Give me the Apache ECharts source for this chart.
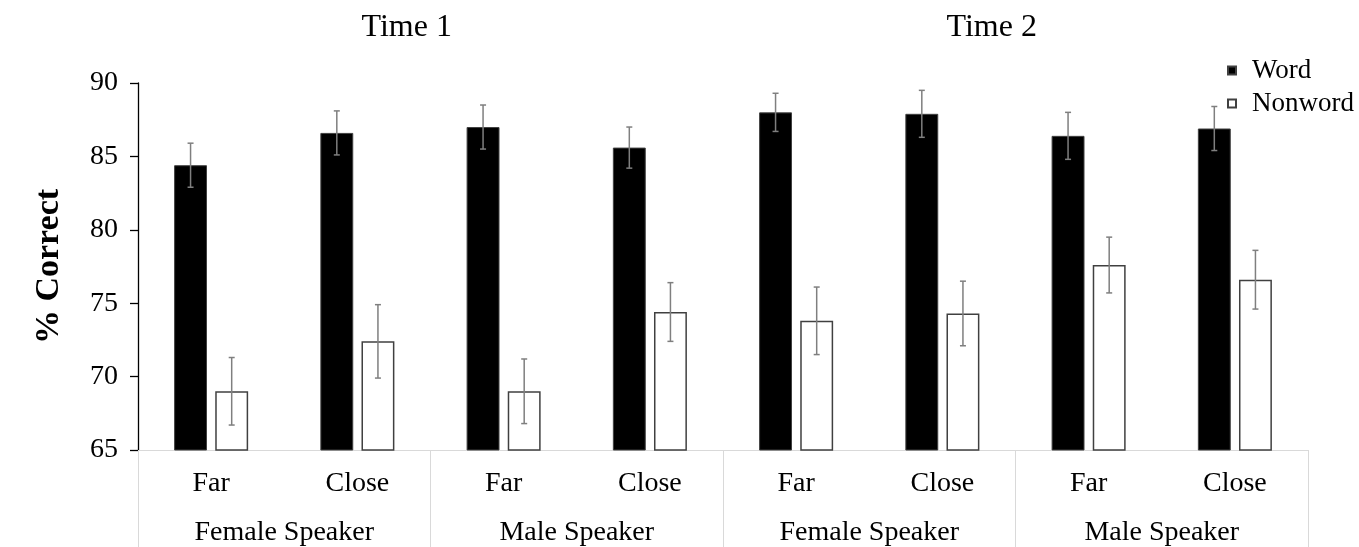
<!DOCTYPE html>
<html>
<head>
<meta charset="utf-8">
<script src="https://cdn.jsdelivr.net/npm/echarts@6/dist/echarts.min.js"></script>
<style>html,body{margin:0;padding:0;background:#fff;}#chart{width:1359px;height:547px;}</style>
</head>
<body>
<div id="chart"></div>
<script>
const conditions = ['Far', 'Close', 'Far', 'Close', 'Far', 'Close', 'Far', 'Close'];
const speakers = ['Female Speaker', 'Male Speaker', 'Female Speaker', 'Male Speaker'];
const times = ['Time 1', 'Time 2'];
const seriesNames = ['Word', 'Nonword'];
const wordValues = [84.4, 86.6, 87.0, 85.6, 88.0, 87.9, 86.4, 86.9];
const wordErrors = [1.5, 1.5, 1.5, 1.4, 1.3, 1.6, 1.6, 1.5];
const nonwordValues = [69.0, 72.4, 69.0, 74.4, 73.8, 74.3, 77.6, 76.6];
const nonwordErrors = [2.3, 2.5, 2.2, 2.0, 2.3, 2.2, 1.9, 2.0];
const yTicks = { min: 65, max: 90, interval: 5 };

const FONT = 'Liberation Serif';
const BAR_W = 0.225, BAR_GAP = 0.25;

function errorSeries(values, errors, side) {
  return {
    type: 'custom',
    xAxisIndex: 0,
    yAxisIndex: 0,
    silent: true,
    z: 5,
    data: values.map((v, i) => [i, v, errors[i]]),
    renderItem: function (params, api) {
      const idx = api.value(0), v = api.value(1), e = api.value(2);
      const band = api.size([1, 0])[0];
      const bw = band * BAR_W;
      const off = side * (bw + bw * BAR_GAP) / 2;
      const top = api.coord([idx, v + e]);
      const bot = api.coord([idx, v - e]);
      const x = top[0] + off;
      const cap = 3;
      const style = { stroke: '#7f7f7f', lineWidth: 1.5, fill: null };
      return {
        type: 'group',
        children: [
          { type: 'line', shape: { x1: x, y1: top[1], x2: x, y2: bot[1] }, style: style },
          { type: 'line', shape: { x1: x - cap, y1: top[1], x2: x + cap, y2: top[1] }, style: style },
          { type: 'line', shape: { x1: x - cap, y1: bot[1], x2: x + cap, y2: bot[1] }, style: style }
        ]
      };
    }
  };
}

const chart = echarts.init(document.getElementById('chart'), null, { renderer: 'canvas' });
const gridLeft = 138, gridRight = 51, gridTop = 83, gridBottom = 97;
const plotW = 1359 - gridLeft - gridRight;

chart.setOption({
  animation: false,
  backgroundColor: '#fff',
  textStyle: { fontFamily: FONT },
  grid: { left: gridLeft, right: gridRight, top: gridTop, bottom: gridBottom, containLabel: false },
  graphic: times.map((t, i) => ({
    type: 'text',
    left: gridLeft + plotW * (0.25 + 0.5 * i) - 24 - 45,
    top: 12,
    style: { text: t, font: '32px "Liberation Serif"', fill: '#000' }
  })),
  legend: {
    data: seriesNames,
    orient: 'vertical',
    left: 1222,
    top: 52,
    itemWidth: 8,
    itemHeight: 8,
    itemGap: 6,
    icon: 'rect',
    textStyle: { fontFamily: FONT, fontSize: 27, color: '#000', padding: [0, 0, 0, 11] }
  },
  xAxis: [
    {
      type: 'category',
      data: conditions,
      position: 'bottom',
      axisLine: { show: true, lineStyle: { color: '#d9d9d9', width: 1 } },
      axisTick: { show: false },
      axisLabel: { fontFamily: FONT, fontSize: 28, color: '#000', margin: 20, interval: 0 }
    },
    {
      type: 'category',
      data: speakers,
      position: 'bottom',
      axisLine: { show: true, lineStyle: { color: '#d9d9d9', width: 1 } },
      axisTick: { show: true, length: 100, lineStyle: { color: '#d9d9d9', width: 1 } },
      axisLabel: { fontFamily: FONT, fontSize: 28, color: '#000', margin: 69, interval: 0 }
    }
  ],
  yAxis: {
    type: 'value',
    min: yTicks.min,
    max: yTicks.max,
    interval: yTicks.interval,
    name: '% Correct',
    nameLocation: 'middle',
    nameRotate: 90,
    nameGap: 72,
    nameTextStyle: { fontFamily: FONT, fontSize: 34, fontWeight: 'bold', color: '#000' },
    axisLine: { show: true, lineStyle: { color: '#000', width: 1.3 } },
    axisTick: { show: true, inside: false, length: 8, lineStyle: { color: '#000', width: 1.3 } },
    axisLabel: { fontFamily: FONT, fontSize: 28, color: '#000', margin: 20 },
    splitLine: { show: false }
  },
  series: [
    {
      name: seriesNames[0],
      type: 'bar',
      data: wordValues,
      barWidth: (BAR_W * 100) + '%',
      barGap: (BAR_GAP * 100) + '%',
      itemStyle: { color: '#000', borderColor: '#404040', borderWidth: 1 }
    },
    {
      name: seriesNames[1],
      type: 'bar',
      data: nonwordValues,
      barWidth: (BAR_W * 100) + '%',
      barGap: (BAR_GAP * 100) + '%',
      itemStyle: { color: '#fff', borderColor: '#404040', borderWidth: 1.5 }
    },
    errorSeries(wordValues, wordErrors, -1),
    errorSeries(nonwordValues, nonwordErrors, 1)
  ]
});
</script>
</body>
</html>
